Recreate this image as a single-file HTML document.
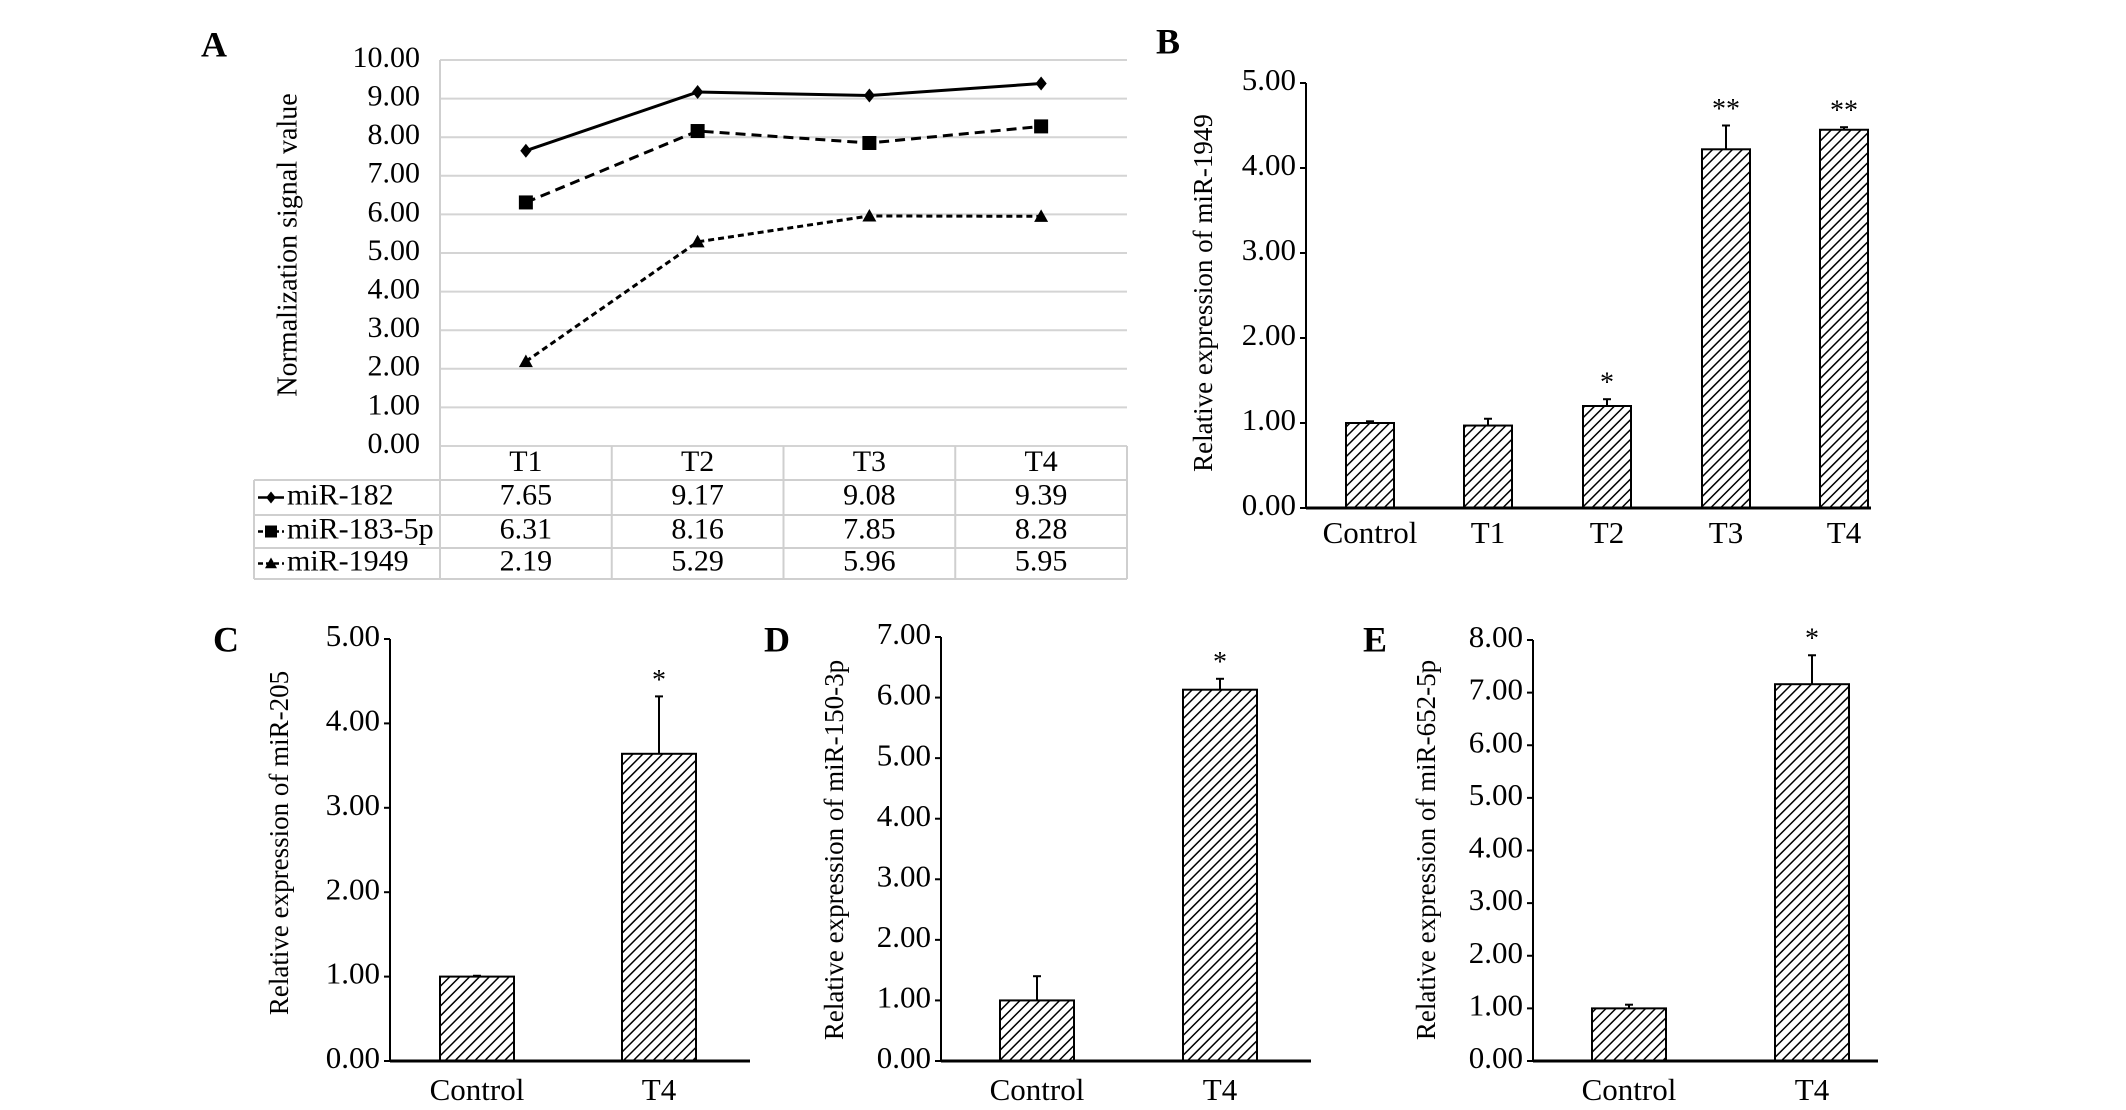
<!DOCTYPE html>
<html><head><meta charset="utf-8">
<style>
html,body{margin:0;padding:0;background:#fff;}
svg{display:block;font-family:"Liberation Serif",serif;}
</style></head>
<body>
<svg id="fig" width="2126" height="1110" viewBox="0 0 2126 1110" xmlns="http://www.w3.org/2000/svg">
<defs>
<pattern id="hatch" patternUnits="userSpaceOnUse" width="7" height="7" patternTransform="rotate(45)">
<rect width="7" height="7" fill="#fff"/>
<line x1="0" y1="0" x2="0" y2="7" stroke="#000" stroke-width="3"/>
</pattern>
</defs>
</svg>
<script>
// Panel A data
const aCategories = ['T1','T2','T3','T4'];
const aSeriesNames = ['miR-182','miR-183-5p','miR-1949'];
const aMir182 = [7.65, 9.17, 9.08, 9.39];
const aMir1835p = [6.31, 8.16, 7.85, 8.28];
const aMir1949 = [2.19, 5.29, 5.96, 5.95];
const aTicks = ['0.00','1.00','2.00','3.00','4.00','5.00','6.00','7.00','8.00','9.00','10.00'];
// Panel B data
const bCategories = ['Control','T1','T2','T3','T4'];
const bValues = [1.00, 0.97, 1.20, 4.22, 4.45];
const bErrors = [0.02, 0.08, 0.08, 0.28, 0.03];
const bStars = ['', '', '*', '**', '**'];
const bTicks = ['0.00','1.00','2.00','3.00','4.00','5.00'];
// Panel C data
const cCategories = ['Control','T4'];
const cValues = [1.00, 3.64];
const cErrors = [0.01, 0.68];
const cStars = ['', '*'];
const cTicks = ['0.00','1.00','2.00','3.00','4.00','5.00'];
// Panel D data
const dCategories = ['Control','T4'];
const dValues = [1.00, 6.13];
const dErrors = [0.40, 0.18];
const dStars = ['', '*'];
const dTicks = ['0.00','1.00','2.00','3.00','4.00','5.00','6.00','7.00'];
// Panel E data
const eCategories = ['Control','T4'];
const eValues = [1.00, 7.16];
const eErrors = [0.07, 0.55];
const eStars = ['', '*'];
const eTicks = ['0.00','1.00','2.00','3.00','4.00','5.00','6.00','7.00','8.00'];

const svg = document.getElementById('fig');
const NS = 'http://www.w3.org/2000/svg';
function mk(tag, attrs, parent, text){
  const e = document.createElementNS(NS, tag);
  for (const k in attrs) e.setAttribute(k, attrs[k]);
  if (text !== undefined) e.textContent = text;
  (parent||svg).appendChild(e);
  return e;
}
function label(x,y,txt,size,anchor,bold,rot){
  const t = mk('text',{x:x,y:y,'font-size':size,'text-anchor':anchor||'middle','font-weight':bold?'bold':'normal','dominant-baseline':'middle'},svg,txt);
  if (rot) t.setAttribute('transform','rotate(-90 '+x+' '+y+')');
  return t;
}

// ---------- Panel A ----------
{
  const L=440, R=1127, Y0=446, Y10=60;
  const y = v => Y0 - (v/10)*(Y0-Y10);
  const colW = (R-L)/aCategories.length;
  const x = i => L + colW*(i+0.5);
  const t = label(214,48,'A',36,'middle',true);
  
  
  aTicks.forEach((tk,i)=>{
    const v = parseFloat(tk);
    const g = mk('line',{x1:L,x2:R,y1:y(v),y2:y(v),stroke:'#d4d4d4','stroke-width':2});
    
    
    const tl = label(420,y(v),tk,30,'end');
    
    
  });
  const yt = label(290,245,'Normalization signal value',28,'middle',false,true);
  
  
  // table
  const rows = [446,480,515,548,579];
  const tb = mk('g',{stroke:'#cfcfcf','stroke-width':2,fill:'none'});
  
  
  mk('line',{x1:L,x2:L,y1:Y10,y2:579},tb);
  mk('line',{x1:R,x2:R,y1:Y0,y2:579},tb);
  mk('line',{x1:254,x2:254,y1:480,y2:579},tb);
  for(let i=1;i<aCategories.length;i++) mk('line',{x1:L+colW*i,x2:L+colW*i,y1:Y0,y2:579},tb);
  mk('line',{x1:254,x2:R,y1:480,y2:480},tb);
  mk('line',{x1:254,x2:R,y1:515,y2:515},tb);
  mk('line',{x1:254,x2:R,y1:548,y2:548},tb);
  mk('line',{x1:254,x2:R,y1:579,y2:579},tb);
  aCategories.forEach((c,i)=>{
    const cl = label(x(i),464,c,30);
    
    
  });
  const series = [aMir182, aMir1835p, aMir1949];
  const dashes = ['none','10,6','6,4'];
  const markers = ['diamond','square','triangle'];
  function marker(kind,cx,cy,s){
    let e;
    if(kind==='diamond') e = mk('polygon',{points:`${cx},${cy-s} ${cx+s*0.8},${cy} ${cx},${cy+s} ${cx-s*0.8},${cy}`,fill:'#000'});
    else if(kind==='square') e = mk('rect',{x:cx-s,y:cy-s,width:2*s,height:2*s,fill:'#000'});
    else e = mk('polygon',{points:`${cx},${cy-s} ${cx+s},${cy+s*0.8} ${cx-s},${cy+s*0.8}`,fill:'#000'});
    return e;
  }
  series.forEach((arr,si)=>{
    const pts = arr.map((v,i)=>x(i)+','+y(v)).join(' ');
    const pl = mk('polyline',{points:pts,fill:'none',stroke:'#000','stroke-width':3,'stroke-dasharray':dashes[si]});
    
    
    arr.forEach((v,i)=>{
      const m = marker(markers[si],x(i),y(v),7);
      
      
    });
    const ry = (rows[si+1]+rows[si+2])/2;
    const ll = mk('line',{x1:258,x2:284,y1:ry,y2:ry,stroke:'#000','stroke-width':2.5,'stroke-dasharray':si?'5,3':'none'});
    
    
    const lm = marker(markers[si],271,ry,6);
    
    
    const ln = label(287,ry,aSeriesNames[si],30,'start');
    
    
    arr.forEach((v,i)=>{
      const vl = label(x(i),ry,v.toFixed(2),30);
      
      
    });
  });
}

// ---------- Bar panels ----------
function barPanel(o){
  const y = v => o.y0 - (v/o.max)*(o.y0-o.ytop);
  const pl = label(o.lx,o.ly,o.letter,36,'middle',true);
  
  
  const ax = mk('line',{x1:o.ax,x2:o.ax,y1:o.ytop,y2:o.y0,stroke:'#000','stroke-width':2});
  
  
  o.ticks.forEach(tk=>{
    const v=parseFloat(tk);
    const tm = mk('line',{x1:o.ax-6,x2:o.ax,y1:y(v),y2:y(v),stroke:'#000','stroke-width':2});
    
    
    const tl = label(o.ax-10,y(v),tk,31,'end');
    
    
  });
  const yt = label(o.tx,o.ty,o.title,27,'middle',false,true);
  
  
  o.cats.forEach((c,i)=>{
    const cx=o.centers[i], v=o.vals[i], e=o.errs[i], w=o.bw;
    const el = mk('line',{x1:cx,x2:cx,y1:y(v),y2:y(v+e),stroke:'#000','stroke-width':2});
    
    
    const ec = mk('line',{x1:cx-4,x2:cx+4,y1:y(v+e),y2:y(v+e),stroke:'#000','stroke-width':2});
    
    
    const b = mk('rect',{x:cx-w/2,y:y(v),width:w,height:o.y0-y(v),fill:'url(#hatch)',stroke:'#000','stroke-width':2});
    
    
    if(o.stars[i]){
      const s = label(cx,y(v+e)-14,o.stars[i],28);
      
      
    }
    const cl = label(cx,o.cy,c,31);
    
    
  });
  const xa = mk('line',{x1:o.ax,x2:o.right,y1:o.y0,y2:o.y0,stroke:'#000','stroke-width':3});
  
  
}
barPanel({letter:'B',lx:1168,ly:45,ax:1306,ytop:83,y0:508,right:1871,max:5,ticks:bTicks,
  cats:bCategories,vals:bValues,errs:bErrors,stars:bStars,centers:[1370,1488,1607,1726,1844],bw:48,
  cy:536,tx:1206,ty:293,title:'Relative expression of miR-1949'});
barPanel({letter:'C',lx:226,ly:643,ax:390,ytop:639,y0:1061,right:750,max:5,ticks:cTicks,
  cats:cCategories,vals:cValues,errs:cErrors,stars:cStars,centers:[477,659],bw:74,
  cy:1093,tx:282,ty:843,title:'Relative expression of miR-205'});
barPanel({letter:'D',lx:777,ly:643,ax:941,ytop:637,y0:1061,right:1311,max:7,ticks:dTicks,
  cats:dCategories,vals:dValues,errs:dErrors,stars:dStars,centers:[1037,1220],bw:74,
  cy:1093,tx:837,ty:850,title:'Relative expression of miR-150-3p'});
barPanel({letter:'E',lx:1375,ly:643,ax:1533,ytop:640,y0:1061,right:1878,max:8,ticks:eTicks,
  cats:eCategories,vals:eValues,errs:eErrors,stars:eStars,centers:[1629,1812],bw:74,
  cy:1093,tx:1429,ty:850,title:'Relative expression of miR-652-5p'});
</script>
</body></html>
